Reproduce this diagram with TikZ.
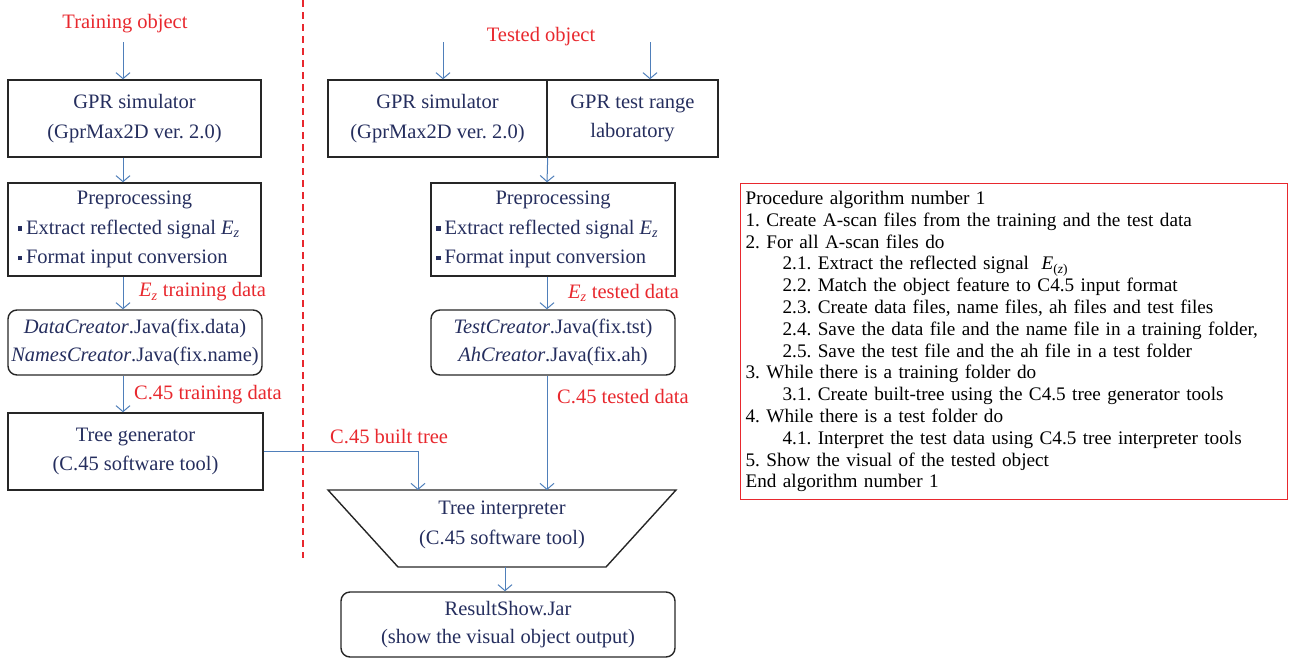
\documentclass[tikz,border=0pt]{standalone}
\usepackage{fontspec}
\setmainfont{Liberation Serif}
\frenchspacing
\usetikzlibrary{arrows.meta}
\definecolor{navy}{HTML}{252E5E}
\definecolor{ared}{HTML}{E8282E}
\definecolor{ablue}{HTML}{4F7FBA}
\newcommand\bul{\raisebox{3.5pt}{\rule{4.5pt}{4.5pt}}\hspace{4pt}}
\newcommand\bline[1]{\makebox[234pt][l]{\bul#1}}
\newcommand\Ez{\textit{E}\textsubscript{\textit{z}}}
\tikzset{
 box/.style={draw=black!85, line width=1.4pt, text=navy, align=center, font=\fontsize{20.5}{29.5}\selectfont, inner sep=0pt},
 rbox/.style={box, rounded corners=9pt, font=\fontsize{20.5}{28}\selectfont},
 flow/.style={draw=ablue, line width=1pt, -{Straight Barb[length=6pt,width=14pt]}},
 lab/.style={text=ared, font=\fontsize{20.5}{22}\selectfont, anchor=west, inner sep=0pt},
 ttl/.style={text=ared, font=\fontsize{20.5}{22}\selectfont, inner sep=0pt},
}
\begin{document}
\begin{tikzpicture}[x=1pt,y=-1pt]
\useasboundingbox (0,0) rectangle (1290,659);
% divider
\coordinate (d0) at (303,0);
\coordinate (d1) at (303,558);
\draw[ared, line width=1.2pt, dash pattern=on 7pt off 5pt] (d0) -- (d1);

% ---------- left column ----------
\node[ttl] (tro) at (125,24) {Training object};
\coordinate (tra) at (123,42);
\node[box, minimum width=253pt, minimum height=77pt] (gs1) at (134.5,118.5) {GPR simulator\\(GprMax2D ver. 2.0)};
\node[box, minimum width=253pt, minimum height=93pt] (pp1) at (134.5,229.5) {Preprocessing\\\bline{Extract reflected signal \Ez}\\\bline{Format input conversion}};
\node[rbox, minimum width=254pt, minimum height=65pt] (dc) at (135,342.5) {\textit{DataCreator}.Java(fix.data)\\\textit{NamesCreator}.Java(fix.name)};
\node[box, minimum width=255pt, minimum height=77pt] (tg) at (135.5,451.5) {Tree generator\\(C.45 software tool)};

\draw[flow] (tra) -- (tra |- gs1.north);
\draw[flow] (gs1.south -| tra) -- (tra |- pp1.north);
\draw[flow] (pp1.south -| tra) -- (tra |- dc.north);
\draw[flow] (dc.south -| tra) -- (tra |- tg.north);
\node[lab] (l1) at (139,292) {\Ez\ training data};
\node[lab] (l2) at (134,395) {C.45 training data};

% ---------- right column ----------
\node[ttl] (teo) at (541,37) {Tested object};
\coordinate (ta1) at (443,42);
\coordinate (ta2) at (650,42);
\node[box, minimum width=219pt, minimum height=77pt] (gs2) at (437.5,118.5) {GPR simulator\\(GprMax2D ver. 2.0)};
\node[box, minimum width=171pt, minimum height=77pt] (gl) at (632.5,118.5) {GPR test range\\laboratory};
\draw[flow] (ta1) -- (ta1 |- gs2.north);
\draw[flow] (ta2) -- (ta2 |- gl.north);

\node[box, minimum width=244pt, minimum height=93pt] (pp2) at (553,229.5) {Preprocessing\\\bline{Extract reflected signal \Ez}\\\bline{Format input conversion}};
\node[rbox, minimum width=244pt, minimum height=65pt] (tc) at (553,342.5) {\textit{TestCreator}.Java(fix.tst)\\\textit{AhCreator}.Java(fix.ah)};

\coordinate (tt) at (547,157);
\draw[flow] (gs2.south east) -- (tt |- pp2.north);
\draw[flow] (pp2.south -| tt) -- (tt |- tc.north);
\node[lab] (l3) at (568,293) {\Ez\ tested data};
\node[lab] (l4) at (557,397) {C.45 tested data};

% trapezoid
\coordinate (tz1) at (328,490);
\coordinate (tz2) at (676,490);
\coordinate (tz3) at (606,567);
\coordinate (tz4) at (398,567);
\draw[black!85, line width=1.4pt] (tz1) -- (tz2) -- (tz3) -- (tz4) -- cycle;
\node[text=navy, align=center, font=\fontsize{20.5}{30}\selectfont, inner sep=0pt] (ti) at (502,525) {Tree interpreter\\(C.45 software tool)};
\coordinate (tin) at (547,490);
\coordinate (bt) at (418,490);
\draw[flow] (tc.south -| tt) -- (tin);
\draw[flow] (tg.east) -| (bt);
\node[lab] (l5) at (330,437) {C.45 built tree};

\node[rbox, minimum width=334pt, minimum height=65pt] (rs) at (508,624.5) {ResultShow.Jar\\(show the visual object output)};
\coordinate (tb) at (505,567);
\draw[flow] (tb) -- (tb |- rs.north);

% ---------- algorithm ----------
\node[draw=ared, line width=1.2pt, anchor=north west, minimum width=547pt, minimum height=316pt, text width=537pt, inner xsep=5pt, inner ysep=0pt, align=left, text=black, font=\fontsize{19.2}{21.8}\selectfont] (alg) at (740,183) {%
Procedure algorithm number 1\\
1. Create A-scan files from the training and the test data\\
2. For all A-scan files do\\
\hspace*{37pt}2.1. Extract the reflected signal \ \textit{E}\textsubscript{(\textit{z})}\\
\hspace*{37pt}2.2. Match the object feature to C4.5 input format\\
\hspace*{37pt}2.3. Create data files, name files, ah files and test files\\
\hspace*{37pt}2.4. Save the data file and the name file in a training folder,\\
\hspace*{37pt}2.5. Save the test file and the ah file in a test folder\\
3. While there is a training folder do\\
\hspace*{37pt}3.1. Create built-tree using the C4.5 tree generator tools\\
4. While there is a test folder do\\
\hspace*{37pt}4.1. Interpret the test data using C4.5 tree interpreter tools\\
5. Show the visual of the tested object\\
End algorithm number 1};
\end{tikzpicture}
\end{document}
